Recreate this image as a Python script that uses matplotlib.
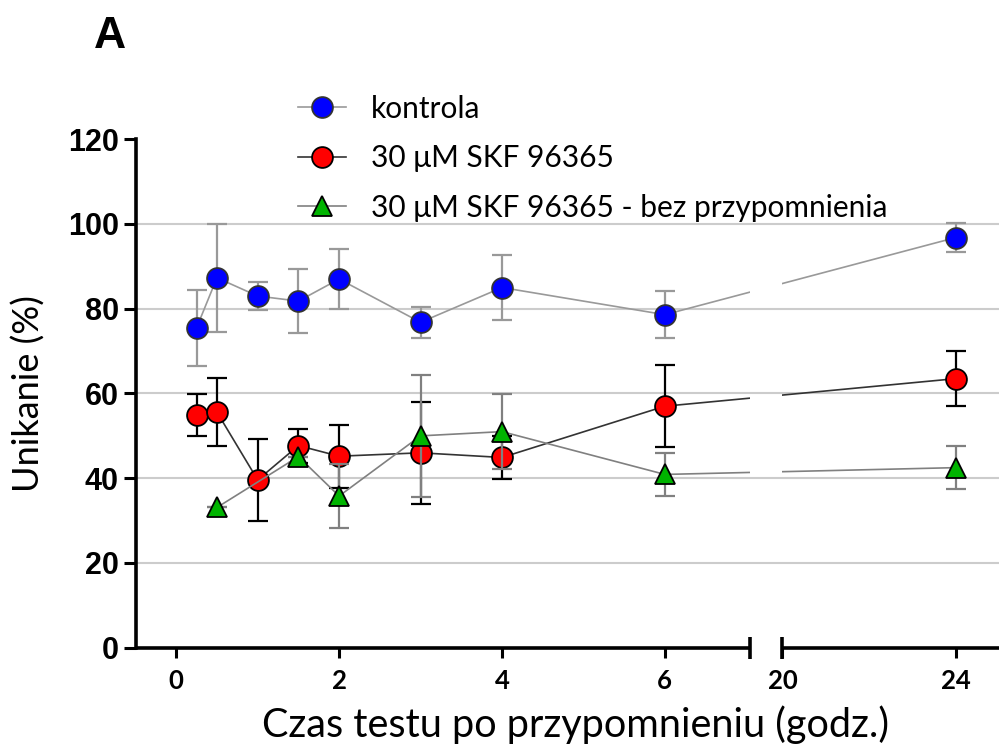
import numpy as np
import matplotlib
matplotlib.use("Agg")
import matplotlib.pyplot as plt
from matplotlib.patches import Rectangle
from matplotlib.lines import Line2D

# --- data -------------------------------------------------------------------
x_ctrl = [0.25, 0.5, 1, 1.5, 2, 3, 4, 6, 24]
y_ctrl = [75.5, 87.3, 83.0, 81.8, 87.0, 76.8, 85.0, 78.6, 96.8]
e_ctrl = [9.0, 12.7, 3.3, 7.5, 7.0, 3.7, 7.7, 5.5, 3.4]

x_skf = [0.25, 0.5, 1, 1.5, 2, 3, 4, 6, 24]
y_skf = [54.9, 55.6, 39.6, 47.7, 45.2, 46.0, 44.9, 57.0, 63.5]
e_skf = [5.0, 8.1, 9.7, 4.0, 7.4, 12.1, 5.1, 9.7, 6.5]

x_bez = [0.5, 1.5, 2, 3, 4, 6, 24]
y_bez = [33.1, 45.1, 35.8, 50.0, 51.0, 40.9, 42.5]
e_bez = [0.0, 0.0, 7.5, 14.4, 8.9, 5.0, 5.0]

labels = ["kontrola", "30 μM SKF 96365", "30 μM SKF 96365 - bez przypomnienia"]
xticks = [0, 2, 4, 6, 20, 24]
yticks = [0, 20, 40, 60, 80, 100, 120]

# broken x axis: 0..7 then 20..25, the second part drawn at ~0.53 scale
LEFT = (-0.5, 7.05)
RIGHT = (20, 25)
GAP = 0.394
R = 0.532
xs_real = [-100, LEFT[1], RIGHT[0], 100]
xs_virt = [-100, LEFT[1], LEFT[1] + GAP, LEFT[1] + GAP + (100 - RIGHT[0]) * R]


def fwd(x):
    return np.interp(x, xs_real, xs_virt)


def inv(v):
    return np.interp(v, xs_virt, xs_real)


SANS = ["Lato", "DejaVu Sans"]
ARIAL = ["Liberation Sans", "DejaVu Sans"]

fig = plt.figure(figsize=(10.03, 7.49), dpi=100)
ax = fig.add_axes([0.1351, 0.1352, 0.861, 0.6789])
ax.set_xscale("function", functions=(fwd, inv))
ax.set_xlim(LEFT[0], RIGHT[1])
ax.set_ylim(0, 120)

for yy in yticks[1:-1]:
    ax.axhline(yy, color="#cccccc", lw=1.5, zorder=0)

series = [
    (x_ctrl, y_ctrl, e_ctrl, "o", "#0000ff", "#333333", "#999999", "#999999"),
    (x_skf, y_skf, e_skf, "o", "#ff0000", "#000000", "#333333", "#000000"),
    (x_bez, y_bez, e_bez, "^", "#00b400", "#000000", "#808080", "#808080"),
]
handles = []
for i, (xv, yv, ev, mk, fc, ec, lc, erc) in enumerate(series):
    z = 2 + i * 3
    ax.errorbar(xv, yv, yerr=ev, fmt="none", ecolor=erc, elinewidth=1.6,
                capsize=7.5, capthick=1.6, zorder=z)
    # the connecting line is interrupted where the x axis is broken
    for lo, hi in (LEFT, RIGHT):
        ln, = ax.plot(xv, yv, color=lc, lw=1.2, zorder=z + 0.5)
        clip = Rectangle((lo, -1), hi - lo, 3, transform=ax.get_xaxis_transform(),
                         facecolor="none", edgecolor="none")
        ax.add_patch(clip)
        ln.set_clip_path(clip)
    ms = 15 if mk == "o" else 14.5
    ax.plot(xv, yv, ls="none", marker=mk, ms=ms, mfc=fc, mec=ec, mew=1.3,
            zorder=z + 1, clip_on=False)
    handles.append(Line2D([], [], color=lc, lw=1.2, marker=mk, ms=ms, mfc=fc,
                          mec=ec, mew=1.3))

# axes frame
for s in ("top", "right", "bottom"):
    ax.spines[s].set_visible(False)
ax.spines["left"].set_linewidth(2.6)
ax.plot(LEFT, [0, 0], color="black", lw=2.6, transform=ax.get_xaxis_transform(),
        clip_on=False, solid_capstyle="butt", marker="|", ms=16, mew=2.6,
        markevery=[1], zorder=20)
ax.plot(RIGHT, [0, 0], color="black", lw=2.6, transform=ax.get_xaxis_transform(),
        clip_on=False, solid_capstyle="butt", marker="|", ms=16, mew=2.6,
        markevery=[0], zorder=20)

ax.set_xticks(xticks)
ax.set_xticklabels([str(t) for t in xticks])
ax.set_yticks(yticks)
ax.set_yticklabels([str(t) for t in yticks])
ax.tick_params(axis="y", direction="out", length=8.5, width=2.2, pad=3.5)
ax.tick_params(axis="x", direction="out", length=7.5, width=2.2, pad=8)
ax.minorticks_off()
for t in ax.get_yticklabels():
    t.set_fontfamily(ARIAL)
    t.set_fontweight("bold")
    t.set_fontsize(22)
for t in ax.get_xticklabels():
    t.set_fontfamily(SANS)
    t.set_fontweight("bold")
    t.set_fontsize(18.5)

ax.set_ylabel("Unikanie (%)", family=SANS, fontsize=26, va="center")
ax.yaxis.set_label_coords(-0.124, 0.5)
fig.text(576 / 1003, 1 - 737 / 749, "Czas testu po przypomnieniu (godz.)",
         family=SANS, fontsize=28.5, ha="center", va="baseline")
fig.text(110 / 1003, 1 - 48 / 749, "A", family=ARIAL, fontweight="bold",
         fontsize=32, ha="center", va="baseline")

leg = fig.legend(handles, labels, loc="upper left",
                 bbox_to_anchor=(286 / 1003, 1 - 83 / 749), frameon=False,
                 prop={"family": SANS, "size": 21.5}, handlelength=1.6,
                 handletextpad=0.85, labelspacing=0.72, borderaxespad=0)

fig.savefig("out.png", dpi=100)
